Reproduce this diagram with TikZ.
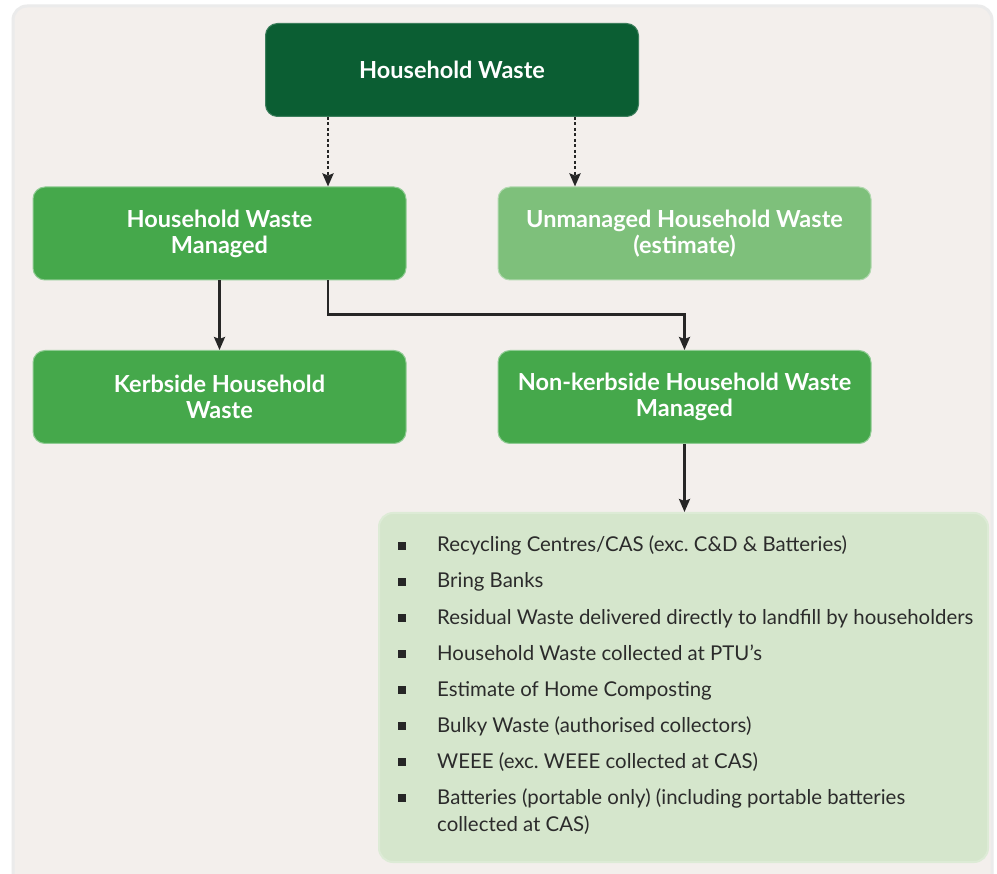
\documentclass[tikz,border=0pt]{standalone}
\usepackage{fontspec}
\setmainfont{Lato}
\usetikzlibrary{arrows.meta}
\definecolor{paper}{HTML}{F3EFEC}
\definecolor{darkleaf}{HTML}{0B5E33}
\definecolor{midleaf}{HTML}{45A84B}
\definecolor{paleleaf}{HTML}{7EC07B}
\definecolor{listleaf}{HTML}{D5E6CC}
\definecolor{ink}{HTML}{2B2B2B}
\frenchspacing

\begin{document}
\begin{tikzpicture}[x=1pt,y=-1pt,>={Stealth[length=13pt,width=11pt,inset=2pt]},
  wastebox/.style={rectangle,rounded corners=12pt,minimum width=373pt,minimum height=93pt,align=center,text=white,
    font=\bfseries\fontsize{23.5}{26}\selectfont},
  topbox/.style={wastebox,fill=darkleaf,draw=darkleaf!80!white,line width=1pt},
  midbox/.style={wastebox,fill=midleaf,draw=midleaf!60!white,line width=1pt},
  palebox/.style={wastebox,fill=paleleaf,draw=paleleaf!60!white,line width=1pt},
  link/.style={->,draw=black!85,line width=2.4pt},
  dotlink/.style={link,line width=2.8pt,dash pattern=on 3pt off 2.5pt},
  itemtext/.style={anchor=base west,inner sep=0pt,text=ink,font=\fontsize{20.4}{27}\selectfont},
  tick/.style={rectangle,fill=black!85,minimum size=8pt,inner sep=0pt}
]
\useasboundingbox (0,0) rectangle (997,874);
\fill[white] (0,0) rectangle (997,874);
\draw[fill=paper,draw=black!8,line width=3pt,rounded corners=14pt] (13,6) rectangle (992,890);

\node [topbox] (hw) at (452,70) {Household Waste};
\node [midbox] (hwm) at (219.5,233.5) {Household Waste\\Managed};
\node [palebox] (uhw) at (684.5,233.5) {Unmanaged Household Waste\\(estimate)};
\node [midbox] (kw) at (219.5,397) {Kerbside Household\\Waste};
\node [midbox] (nkw) at (684.5,397) {Non-kerbside Household Waste\\Managed};
\node [rectangle,rounded corners=14pt,fill=listleaf,draw=listleaf!80!white,line width=2pt,
       minimum width=609pt,minimum height=349pt] (list) at (683.5,687.5) {};

% the sources of non-kerbside waste
\foreach \n/\txt in {0/{Recycling Centres/CAS (exc. C\&D \& Batteries)},
                     1/{Bring Banks},
                     2/{Residual Waste delivered directly to landfill by householders},
                     3/{Household Waste collected at PTU's},
                     4/{Estimate of Home Composting},
                     5/{Bulky Waste (authorised collectors)},
                     6/{WEEE (exc. WEEE collected at CAS)},
                     7/{Batteries (portable only) (including portable batteries}} {
  \node [tick] (b\n) at (402,{546+36*\n}) {};
  \node [itemtext] (t\n) at (437,{552+36*\n}) {\txt};
}
\node [itemtext] (t8) at (437,{552+36*7+27}) {collected at CAS)};

% connectors
\path (hw.south) ++(-124,0) coordinate (splitL);
\path (hw.south) ++(123,0) coordinate (splitR);
\draw [dotlink] (splitL) -- (splitL |- hwm.north);
\draw [dotlink] (splitR) -- (splitR |- uhw.north);
\draw [link] (hwm) -- (kw);
\draw [link] (splitL |- hwm.south) -- ++(0,34) -| (nkw.north);
\draw [link] (nkw.south) -- (nkw.south |- list.north);

\end{tikzpicture}
\end{document}
